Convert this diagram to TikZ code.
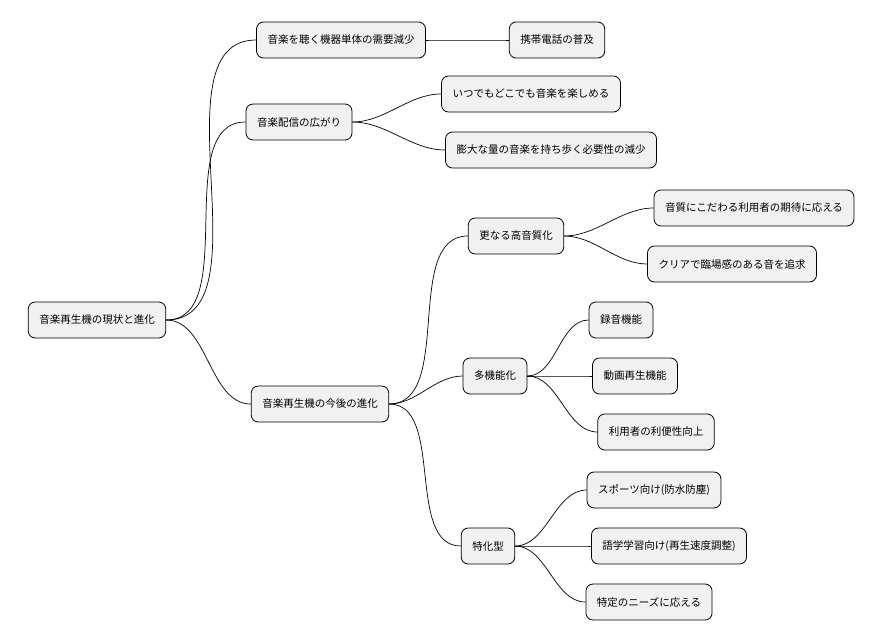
\documentclass[tikz,border=0pt]{standalone}
\usepackage{fontspec}
\setmainfont{Noto Sans CJK JP}
\usetikzlibrary{calc}
\definecolor{boxfill}{HTML}{F1F1F1}
\tikzset{
  topic/.style={draw=black, fill=boxfill, rounded corners=7pt, line width=0.8pt,
    minimum height=36pt, inner xsep=11pt, font=\fontsize{10.5}{12}\selectfont},
  branch/.style={line width=0.7pt, out=0, in=180, looseness=0.9},
}
\begin{document}
\begin{tikzpicture}[x=1pt, y=-1pt]
\useasboundingbox (0, 0) rectangle (894, 640);
\node[topic] (root) at (97, 320) {音楽再生機の現状と進化};
\node[topic] (demand) at (341, 40) {音楽を聴く機器単体の需要減少};
\node[topic] (phone) at (557, 40) {携帯電話の普及};
\node[topic] (stream) at (299, 122) {音楽配信の広がり};
\node[topic] (anywhere) at (531, 94) {いつでもどこでも音楽を楽しめる};
\node[topic] (carry) at (551, 150) {膨大な量の音楽を持ち歩く必要性の減少};
\node[topic] (future) at (320, 404) {音楽再生機の今後の進化};
\node[topic] (hires) at (516, 236) {更なる高音質化};
\node[topic] (expect) at (754, 208) {音質にこだわる利用者の期待に応える};
\node[topic] (clear) at (732, 264) {クリアで臨場感のある音を追求};
\node[topic] (multi) at (495, 376) {多機能化};
\node[topic] (rec) at (621, 320) {録音機能};
\node[topic] (video) at (635, 376) {動画再生機能};
\node[topic] (conv) at (656, 432) {利用者の利便性向上};
\node[topic] (special) at (488, 546) {特化型};
\node[topic] (sports) at (654, 490) {スポーツ向け(防水防塵)};
\node[topic] (lang) at (669, 546) {語学学習向け(再生速度調整)};
\node[topic] (needs) at (649, 602) {特定のニーズに応える};
\foreach \p/\c in {root/demand, root/stream, root/future, demand/phone,
    stream/anywhere, stream/carry, future/hires, future/multi, future/special,
    hires/expect, hires/clear, multi/rec, multi/video, multi/conv,
    special/sports, special/lang, special/needs}
  \draw[branch] (\p.east) to (\c.west);
\end{tikzpicture}
\end{document}
